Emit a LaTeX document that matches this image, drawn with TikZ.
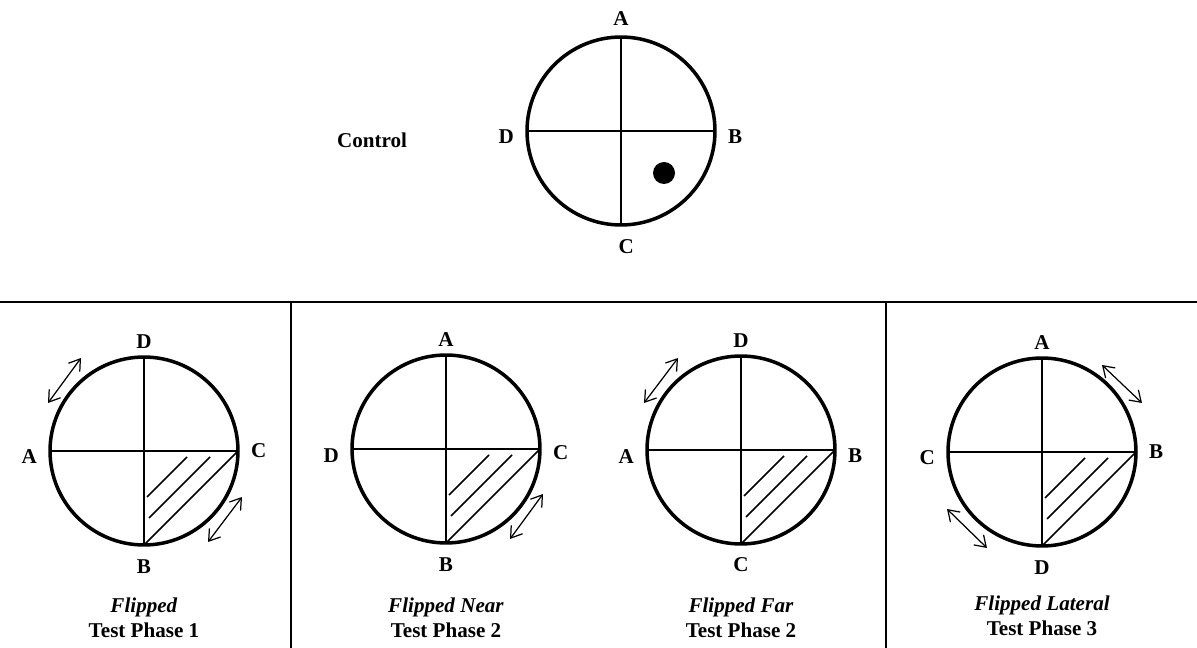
\documentclass[tikz,border=0pt]{standalone}
\usepackage{fontspec}
\setmainfont{Liberation Serif}
\usepackage{tikz}
\usetikzlibrary{arrows.meta, positioning}

\begin{document}
\begin{tikzpicture}[
    x=0.02cm, y=0.02cm,
    ring/.style={draw, circle, line width=2pt, minimum size=3.76cm,
                 inner sep=0pt, outer sep=0pt},
    cross/.style={line width=1.1pt},
    hatch/.style={line width=0.9pt},
    swing/.style={line width=0.7pt, {Straight Barb[length=6pt,width=8pt]}-{Straight Barb[length=6pt,width=8pt]}},
    lbl/.style={font=\fontsize{12}{14.4}\selectfont\bfseries},
    caption/.style={align=center, font=\fontsize{12}{14.4}\selectfont\bfseries},
    sep/.style={line width=0.9pt}
]
\useasboundingbox (0,0) rectangle (1197,-648);
%% Control arena
\node[ring] (r0) at (621,-131) {};
\draw[cross] (r0.north) -- (r0.south) (r0.west) -- (r0.east);
\node[lbl, above=3pt of r0.north] (r0a) {A};
\node[lbl, right=4pt of r0.east, yshift=-3pt] (r0b) {B};
\node[lbl, below=5pt of r0.south, xshift=3pt] (r0c) {C};
\node[lbl, left=4pt of r0.west, yshift=-3pt] (r0d) {D};
\node[lbl] (ctrl) at (372,-140) {Control};
\node[circle, fill=black, minimum size=0.44cm, inner sep=0pt] (goal) at (664,-173) {};
%% Separators
\coordinate (hl) at (0,-302);
\coordinate (hr) at (1197,-302);
\coordinate (v1t) at (291,-302);
\coordinate (v1b) at (291,-648);
\coordinate (v2t) at (886,-302);
\coordinate (v2b) at (886,-648);
\draw[sep] (hl) -- (hr);
\draw[sep] (v1t) -- (v1b);
\draw[sep] (v2t) -- (v2b);
%% Flipped, test phase 1
\node[ring] (r1) at (144,-451) {};
\draw[cross] (r1.north) -- (r1.south) (r1.west) -- (r1.east);
\draw[hatch] (r1.south) -- (r1.east);
\draw[hatch] (r1) ++(3,-46) -- ++(40,40);
\draw[hatch] (r1) ++(5,-67) -- ++(61,61);
\draw[swing] (r1) ++(-96,48) -- ++(33,45);
\draw[swing] (r1) ++(64,-91) -- ++(34,45);
\node[lbl, above=1.5pt of r1.north] (r1d) {D};
\node[lbl, right=4pt of r1.east] (r1c) {C};
\node[lbl, below=5pt of r1.south] (r1b) {B};
\node[lbl, left=4pt of r1.west, yshift=-3pt] (r1a) {A};
\node[caption] (cap1) at (144,-618) {\textit{Flipped}\\Test Phase 1};
%% Flipped near, test phase 2
\node[ring] (r2) at (446,-449) {};
\draw[cross] (r2.north) -- (r2.south) (r2.west) -- (r2.east);
\draw[hatch] (r2.south) -- (r2.east);
\draw[hatch] (r2) ++(3,-46) -- ++(40,40);
\draw[hatch] (r2) ++(5,-67) -- ++(61,61);
\draw[swing] (r2) ++(64,-90) -- ++(33,45);
\node[lbl, above=1.5pt of r2.north] (r2a) {A};
\node[lbl, right=4pt of r2.east, yshift=-2pt] (r2c) {C};
\node[lbl, below=5pt of r2.south] (r2b) {B};
\node[lbl, left=4pt of r2.west, yshift=-4pt] (r2d) {D};
\node[caption] (cap2) at (446,-618) {\textit{Flipped Near}\\Test Phase 2};
%% Flipped far, test phase 2
\node[ring] (r3) at (741,-450) {};
\draw[cross] (r3.north) -- (r3.south) (r3.west) -- (r3.east);
\draw[hatch] (r3.south) -- (r3.east);
\draw[hatch] (r3) ++(3,-46) -- ++(40,40);
\draw[hatch] (r3) ++(5,-67) -- ++(61,61);
\draw[swing] (r3) ++(-97,47) -- ++(34,45);
\node[lbl, above=1.5pt of r3.north] (r3d) {D};
\node[lbl, right=4pt of r3.east, yshift=-3pt] (r3b) {B};
\node[lbl, below=4pt of r3.south] (r3c) {C};
\node[lbl, left=4pt of r3.west, yshift=-4pt] (r3a) {A};
\node[caption] (cap3) at (741,-618) {\textit{Flipped Far}\\Test Phase 2};
%% Flipped lateral, test phase 3
\node[ring] (r4) at (1042,-452) {};
\draw[cross] (r4.north) -- (r4.south) (r4.west) -- (r4.east);
\draw[hatch] (r4.south) -- (r4.east);
\draw[hatch] (r4) ++(3,-46) -- ++(40,40);
\draw[hatch] (r4) ++(5,-67) -- ++(61,61);
\draw[swing] (r4) ++(60,87) -- ++(40,-38);
\draw[swing] (r4) ++(-95,-57) -- ++(40,-39);
\node[lbl, above=1.5pt of r4.north] (r4a) {A};
\node[lbl, right=4pt of r4.east] (r4b) {B};
\node[lbl, below=5pt of r4.south] (r4d) {D};
\node[lbl, left=4pt of r4.west, yshift=-3pt] (r4c) {C};
\node[caption] (cap4) at (1042,-616) {\textit{Flipped Lateral}\\Test Phase 3};
\end{tikzpicture}
\end{document}
